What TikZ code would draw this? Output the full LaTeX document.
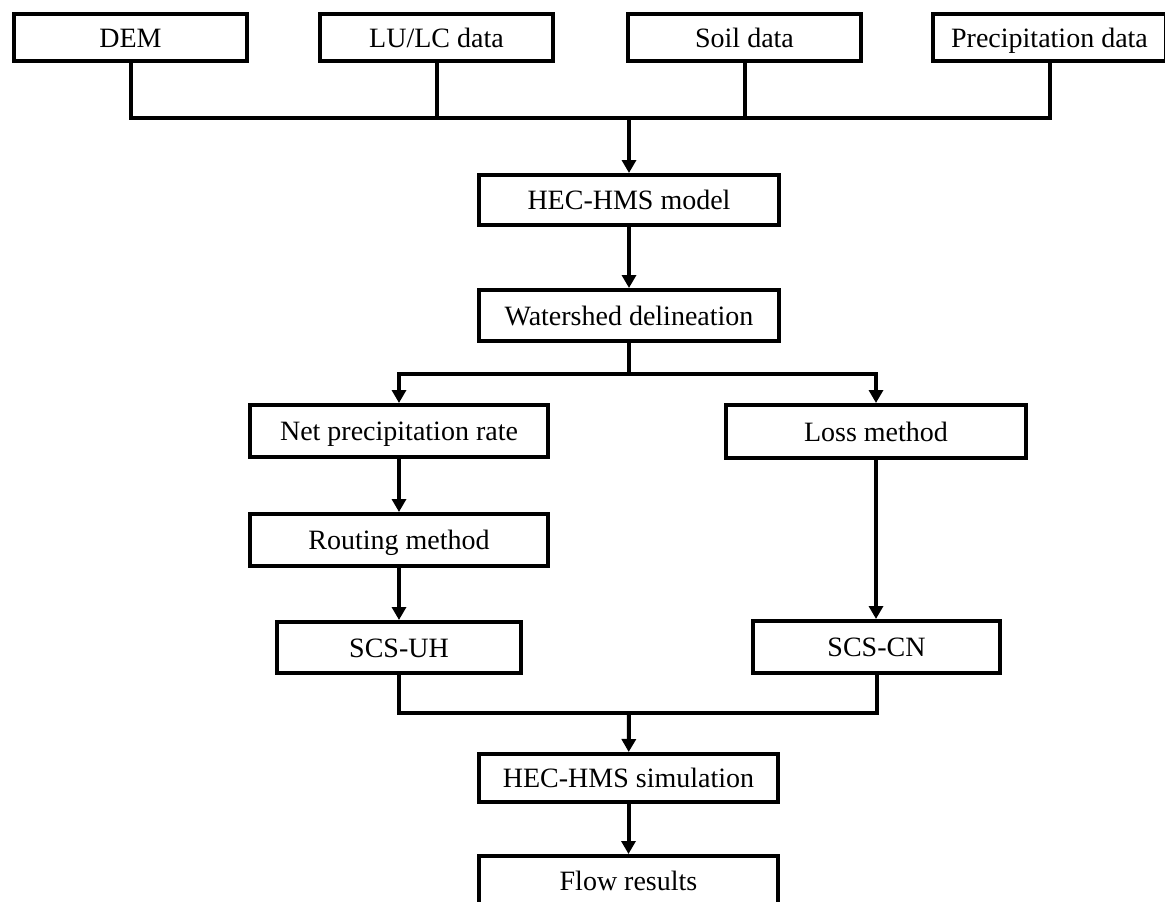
\documentclass[tikz,border=0pt]{standalone}
\usepackage{fontspec}
\setmainfont{Liberation Serif}
\usetikzlibrary{arrows.meta}

\begin{document}
\begin{tikzpicture}[
        x=1pt, y=-1pt,
        box/.style={draw, line width=4pt, align=center, minimum height=50pt, minimum width=300pt, inner sep=0pt, text height=24pt, text depth=5pt, font=\fontsize{28}{32}\selectfont},
        topbox/.style={box, minimum width=233pt, minimum height=47pt},
        arr/.style={-{Triangle[length=13pt, width=14pt]}, line width=4pt},
        conn/.style={line width=4pt}
      ]
      \clip (0,0) rectangle (1165,902);
      % inputs
      \node[topbox] (dem)    at (130.5,37.5)  {DEM};
      \node[topbox] (lulc)   at (436.5,37.5)  {LU/LC data};
      \node[topbox] (soil)   at (744.5,37.5)  {Soil data};
      \node[topbox] (precip) at (1049.5,37.5) {Precipitation data};
      % main chain
      \node[box] (model) at (629,200)   {HEC-HMS model};
      \node[box, minimum height=51pt] (shed) at (629,315.5) {Watershed delineation};
      \node[box, minimum width=298pt, minimum height=52pt] (netp)  at (399,431) {Net precipitation rate};
      \node[box, minimum width=298pt, minimum height=52pt] (route) at (399,540) {Routing method};
      \node[box, minimum width=244pt, minimum height=51pt] (uh)    at (399,647.5) {SCS-UH};
      \node[box, minimum height=53pt] (loss) at (876,431.5) {Loss method};
      \node[box, minimum width=247pt, minimum height=52pt] (cn) at (876.5,647) {SCS-CN};
      \node[box, minimum width=299pt, minimum height=48pt] (sim) at (628.5,778) {HEC-HMS simulation};
      \node[box, minimum width=299pt, minimum height=50pt] (flow) at (628.5,881) {Flow results};
      % junctions
      \coordinate (bus)   at (629,118);
      \coordinate (split) at (629,374);
      \coordinate (merge) at (629,713);
      % inputs to model
      \draw[conn] (dem.south) |- (precip.south |- bus) -- (precip.south);
      \draw[conn] (lulc.south) -- (lulc.south |- bus);
      \draw[conn] (soil.south) -- (soil.south |- bus);
      \draw[arr] (bus) -- (model);
      \draw[arr] (model) -- (shed);
      % split
      \draw[conn] (shed) -- (split);
      \draw[arr] (split) -| (netp.north);
      \draw[arr] (split) -| (loss.north);
      \draw[arr] (netp) -- (route);
      \draw[arr] (route) -- (uh);
      \draw[arr] (loss.south) -- (loss.south |- cn.north);
      % merge
      \draw[conn] (uh.south) |- (cn.south |- merge) -- (cn.south);
      \draw[arr] (merge) -- (sim);
      \draw[arr] (sim) -- (flow);
    \end{tikzpicture}
\end{document}
